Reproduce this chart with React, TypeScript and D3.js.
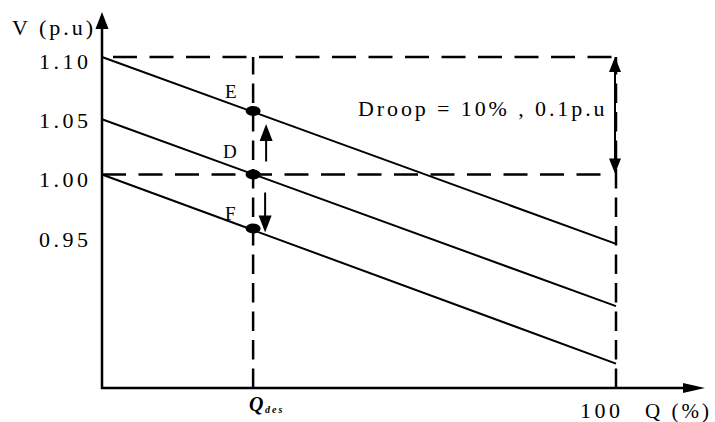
import React from "react";
import * as d3 from "d3";

// ---- data ----
const vTicks = [1.1, 1.05, 1.0, 0.95];
const vTickLabels = ["1.10", "1.05", "1.00", "0.95"];
const lineNames = ["E", "D", "F"];
const lineStartV = [1.1, 1.047, 1.0];
const lineEndV = [0.941, 0.888, 0.839];
const pointV = [1.054, 1.0, 0.954];
const qDes = 29.4;
const qMax = 100;
const droopTop = 1.1;
const droopBottom = 1.0;
const droopText = "Droop = 10% , 0.1p.u";
const yAxisLabel = "V (p.u)";
const xAxisLabel = "Q (%)";
const xTickLabel = "100";

const W = 715;
const H = 422;
const FONT = "'Liberation Serif', 'Times New Roman', serif";

export default function App() {
  const x = d3.scaleLinear().domain([0, qMax]).range([102, 616]);
  const y = d3.scaleLinear().domain([1.0, 1.1]).range([174.5, 57]);

  const axisY = 388;
  const x0 = x(0);
  const xTip = 705;
  const yTip = 12;
  const xQ = x(qDes);
  const x100 = x(qMax);

  const line = d3
    .line<[number, number]>()
    .x((d) => x(d[0]))
    .y((d) => y(d[1]));

  const arrowUp = (cx: number, tipY: number, w: number, h: number) =>
    `M${cx},${tipY} L${cx - w / 2},${tipY + h} L${cx + w / 2},${tipY + h} Z`;
  const arrowDown = (cx: number, tipY: number, w: number, h: number) =>
    `M${cx},${tipY} L${cx - w / 2},${tipY - h} L${cx + w / 2},${tipY - h} Z`;

  const yE = y(pointV[0]);
  const yD = y(pointV[1]);
  const yF = y(pointV[2]);
  const arrX = xQ + 13;

  const hDash = "24 12.5";
  const vDash = "19.5 9";

  return (
    <svg
      width={W}
      height={H}
      style={{ position: "absolute", left: 0, top: 0, background: "#fff" }}
      fontFamily={FONT}
    >
      <rect x={0} y={0} width={W} height={H} fill="#fff" />

      {/* dashed reference lines */}
      <line
        x1={x0}
        x2={x100}
        y1={y(droopTop)}
        y2={y(droopTop)}
        stroke="#000"
        strokeWidth={2.5}
        strokeDasharray={hDash}
        strokeDashoffset={25.5}
      />
      <line
        x1={x0}
        x2={x100 - 10}
        y1={y(droopBottom)}
        y2={y(droopBottom)}
        stroke="#000"
        strokeWidth={2.5}
        strokeDasharray={hDash}
        strokeDashoffset={0}
      />
      <line
        x1={xQ}
        x2={xQ}
        y1={axisY}
        y2={y(droopTop)}
        stroke="#000"
        strokeWidth={2.5}
        strokeDasharray={vDash}
      />
      <line
        x1={x100}
        x2={x100}
        y1={axisY}
        y2={y(droopTop)}
        stroke="#000"
        strokeWidth={2.5}
        strokeDasharray={vDash}
      />

      {/* droop lines */}
      {lineNames.map((n, i) => (
        <path
          key={n}
          d={line([
            [0, lineStartV[i]],
            [qMax, lineEndV[i]],
          ]) as string}
          fill="none"
          stroke="#000"
          strokeWidth={2}
        />
      ))}

      {/* axes */}
      <line x1={x0} x2={x0} y1={axisY + 1} y2={yTip + 14} stroke="#000" strokeWidth={2.5} />
      <path d={arrowUp(x0, yTip, 13, 17)} fill="#000" />
      <line x1={x0 - 1} x2={xTip - 18} y1={axisY} y2={axisY} stroke="#000" strokeWidth={2.5} />
      <path d={`M${xTip},${axisY} L${xTip - 22},${axisY - 5} L${xTip - 22},${axisY + 5} Z`} fill="#000" />

      {/* tick labels */}
      {vTicks.map((v, i) => (
        <text
          key={v}
          x={x0 - 63}
          y={y(v) + (i === 3 ? 14 : 12)}
          fontSize={22}
          letterSpacing={3.5}
          fill="#000"
        >
          {vTickLabels[i]}
        </text>
      ))}
      <text x={12} y={35} fontSize={22} letterSpacing={3} fill="#000">
        {yAxisLabel}
      </text>

      {/* points */}
      {lineNames.map((n, i) => (
        <g key={n}>
          <ellipse cx={xQ} cy={y(pointV[i])} rx={7.5} ry={5} fill="#000" />
          <text
            x={xQ + (i === 1 ? -30 : -28)}
            y={y(pointV[i]) + (i === 2 ? -9 : i === 1 ? -17 : -13)}
            fontSize={19}
            fill="#000"
          >
            {n}
          </text>
        </g>
      ))}

      {/* up / down arrows */}
      <line x1={arrX} x2={arrX} y1={yD - 13} y2={yE + 25} stroke="#000" strokeWidth={2} />
      <path d={arrowUp(arrX, yE + 13, 13, 17)} fill="#000" />
      <line x1={arrX - 1} x2={arrX - 1} y1={yD + 18} y2={yF - 10} stroke="#000" strokeWidth={2} />
      <path d={arrowDown(arrX - 1, yF + 4, 13, 17)} fill="#000" />

      {/* droop double arrow */}
      <line
        x1={x100 - 1}
        x2={x100 - 1}
        y1={y(droopTop) + 10}
        y2={y(droopBottom) - 10}
        stroke="#000"
        strokeWidth={2}
      />
      <path d={arrowUp(x100 - 1, y(droopTop), 12, 15)} fill="#000" />
      <path d={arrowDown(x100 - 1, y(droopBottom) - 1, 12, 15)} fill="#000" />
      <text x={358} y={116} fontSize={22} letterSpacing={2.9} fill="#000">
        {droopText}
      </text>

      {/* x labels */}
      <text x={xQ - 4} y={411} fontSize={20} fontStyle="italic" fontWeight="bold" fill="#000">
        Q
      </text>
      <text x={xQ + 12} y={413} fontSize={10} fontStyle="italic" fontWeight="bold" letterSpacing={2} fill="#000">
        des
      </text>
      <text x={x100 - 36} y={418} fontSize={22} letterSpacing={3.5} fill="#000">
        {xTickLabel}
      </text>
      <text x={645} y={418} fontSize={21} letterSpacing={3} fill="#000">
        {xAxisLabel}
      </text>
    </svg>
  );
}
